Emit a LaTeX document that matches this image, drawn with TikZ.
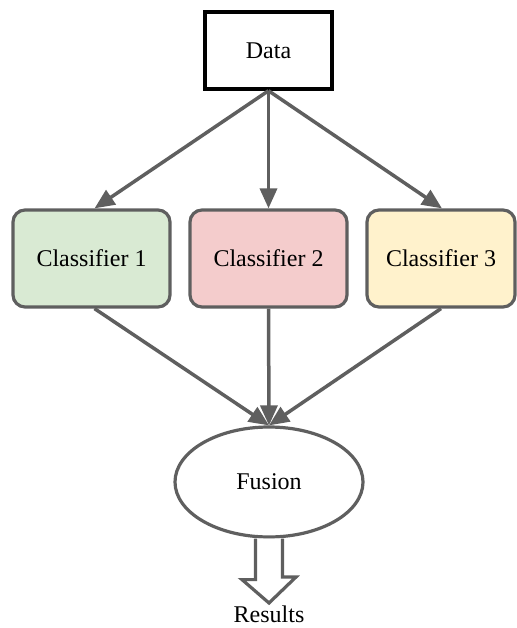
\documentclass[tikz,border=0pt]{standalone}
\usepackage{fontspec}
\setmainfont{Liberation Serif}
\usetikzlibrary{arrows.meta,shapes.geometric}
\definecolor{edgegray}{HTML}{5F5F5F}
\definecolor{cgreen}{HTML}{D9EAD3}
\definecolor{cred}{HTML}{F4CCCC}
\definecolor{cyellow}{HTML}{FFF2CC}
\tikzset{
  lbl/.style={font=\fontsize{24}{28}\selectfont},
  databox/.style={lbl, draw=black, line width=3.5pt, fill=white, minimum width=127pt, minimum height=77pt, inner sep=0pt},
  clsbox/.style={lbl, draw=edgegray, line width=3.2pt, rounded corners=12pt, minimum height=97pt, inner sep=0pt},
  fusionnode/.style={lbl, ellipse, draw=edgegray, line width=3.2pt, fill=white, minimum width=188pt, minimum height=110pt, inner sep=0pt},
  conn/.style={draw=edgegray, line width=3.5pt, -{Triangle[length=20pt,width=17pt]}},
  blockarrow/.style={draw=edgegray, line width=3.2pt, fill=white, line join=miter}
}
\begin{document}
\begin{tikzpicture}[x=1pt,y=-1pt]
\useasboundingbox (0,0) rectangle (516,628);
\node[databox] (data) at (268.5,50.5) {Data};
\node[clsbox, fill=cgreen, minimum width=157pt] (c1) at (91.5,258.5) {Classifier 1};
\node[clsbox, fill=cred, minimum width=157pt] (c2) at (268.5,258.5) {Classifier 2};
\node[clsbox, fill=cyellow, minimum width=148pt] (c3) at (441,258.5) {Classifier 3};
\node[fusionnode] (fusion) at (269,482) {Fusion};
\node[lbl, inner sep=0pt] (results) at (269,614.5) {Results};
\coordinate (tip) at (269,603);
\draw[conn] (data.south) -- ([xshift=3pt]c1.north);
\draw[conn] (data.south) -- (c2.north);
\draw[conn] (data.south) -- ([xshift=1pt]c3.north);
\draw[conn] ([xshift=3pt]c1.south) -- (fusion.north);
\draw[conn] (c2.south) -- (fusion.north);
\draw[conn] (c3.south) -- (fusion.north);
\draw[blockarrow] ([xshift=-13.5pt]fusion.south) -- ++(0,41) -- ++(-13.5,0)
  -- (tip) -- ++(27,-26) -- ++(-13.5,0) -- ([xshift=13.5pt]fusion.south);
\end{tikzpicture}
\end{document}
